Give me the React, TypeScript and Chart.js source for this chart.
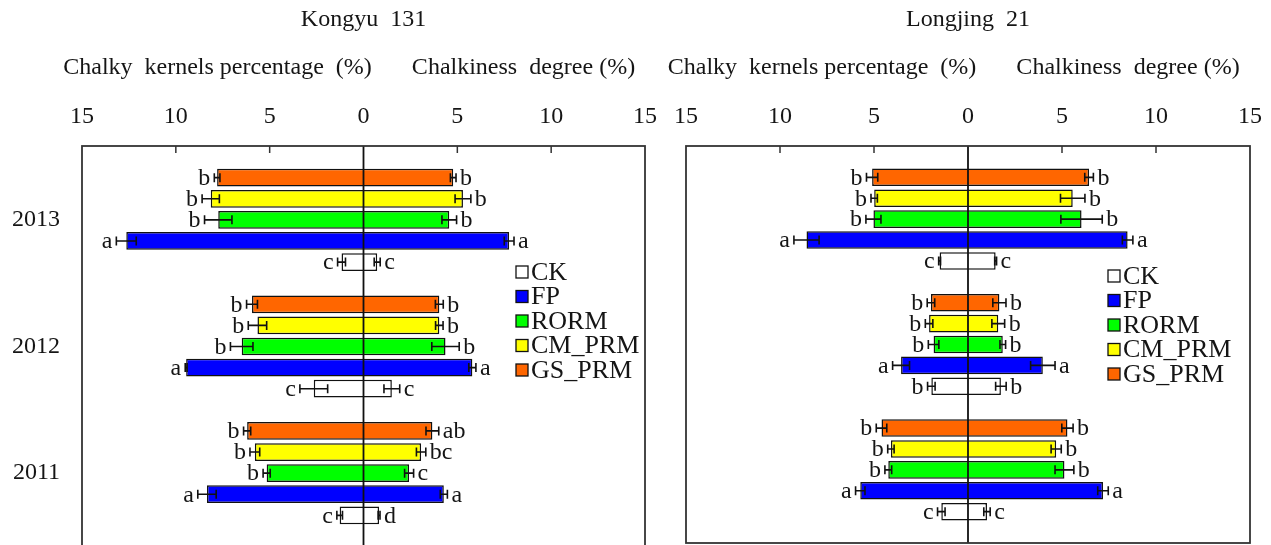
import React, { useEffect, useRef } from 'react';
import { Chart, registerables } from 'chart.js';

Chart.register(...registerables);

// ---------- data ----------
const YEARS = ['2013', '2012', '2011'];
const TREATMENTS = ['CK', 'FP', 'RORM', 'CM_PRM', 'GS_PRM'];
const COLORS = ['#ffffff', '#0000ff', '#00ff00', '#ffff00', '#ff6600'];
// order of the bars inside each year group, from top to bottom
const TOP_TO_BOTTOM = ['GS_PRM', 'CM_PRM', 'RORM', 'FP', 'CK'];
const X_TICKS = [-15, -10, -5, 0, 5, 10, 15];

// rows: CK, FP, RORM, CM_PRM, GS_PRM ; columns: 2013, 2012, 2011
// Kongyu 131
const KY_CKP = [
  [1.17, 2.65, 1.27],
  [12.64, 9.45, 8.34],
  [7.74, 6.49, 5.16],
  [8.14, 5.65, 5.79],
  [7.8, 5.94, 6.2],
];
const KY_CKP_ERR = [
  [0.21, 0.74, 0.15],
  [0.53, 0.05, 0.49],
  [0.73, 0.6, 0.19],
  [0.46, 0.49, 0.26],
  [0.15, 0.29, 0.19],
];
const KY_CKP_LET = [
  ['c', 'c', 'c'],
  ['a', 'a', 'a'],
  ['b', 'b', 'b'],
  ['b', 'b', 'b'],
  ['b', 'b', 'b'],
];
const KY_CD = [
  [0.73, 1.51, 0.83],
  [7.76, 5.8, 4.28],
  [4.57, 4.37, 2.43],
  [5.3, 4.04, 3.07],
  [4.78, 4.04, 3.67],
];
const KY_CD_ERR = [
  [0.16, 0.42, 0.05],
  [0.26, 0.19, 0.19],
  [0.39, 0.73, 0.24],
  [0.42, 0.2, 0.25],
  [0.15, 0.21, 0.34],
];
const KY_CD_LET = [
  ['c', 'c', 'd'],
  ['a', 'a', 'a'],
  ['b', 'b', 'c'],
  ['b', 'b', 'bc'],
  ['b', 'b', 'ab'],
];

// Longjing 21
const LJ_CKP = [
  [1.51, 1.95, 1.42],
  [8.59, 3.56, 5.73],
  [5.03, 1.83, 4.24],
  [4.99, 2.07, 4.1],
  [5.1, 1.97, 4.6],
];
const LJ_CKP_ERR = [
  [0.05, 0.2, 0.2],
  [0.67, 0.45, 0.25],
  [0.4, 0.28, 0.18],
  [0.17, 0.2, 0.17],
  [0.3, 0.2, 0.28],
];
const LJ_CKP_LET = [
  ['c', 'b', 'c'],
  ['a', 'a', 'a'],
  ['b', 'b', 'b'],
  ['b', 'b', 'b'],
  ['b', 'b', 'b'],
];
const LJ_CD = [
  [1.47, 1.75, 1.01],
  [8.49, 3.98, 7.18],
  [6.04, 1.85, 5.13],
  [5.57, 1.61, 4.69],
  [6.44, 1.67, 5.29],
];
const LJ_CD_ERR = [
  [0.05, 0.28, 0.17],
  [0.28, 0.65, 0.28],
  [1.1, 0.15, 0.5],
  [0.65, 0.34, 0.27],
  [0.23, 0.35, 0.3],
];
const LJ_CD_LET = [
  ['c', 'b', 'c'],
  ['a', 'a', 'a'],
  ['b', 'b', 'b'],
  ['b', 'b', 'b'],
  ['b', 'b', 'b'],
];

const FONT = "'Liberation Serif', 'Times New Roman', serif";
const INK = '#151515';

type PanelProps = {
  title: string;
  ckp: number[][];
  ckpErr: number[][];
  ckpLet: string[][];
  cd: number[][];
  cdErr: number[][];
  cdLet: string[][];
  showYears: boolean;
  width: number;
  height: number;
  padLeft: number;
  padRight: number;
  padBottom: number;
  legendOffset: number;
  legendTop: number;
};

function buildLabels(): string[] {
  const labels: string[] = [''];
  YEARS.forEach((y) => {
    TOP_TO_BOTTOM.forEach((t) => labels.push(t === 'RORM' ? y : ''));
    labels.push('');
  });
  return labels;
}

function slotOf(yi: number, treatment: string): number {
  return 1 + yi * (TOP_TO_BOTTOM.length + 1) + TOP_TO_BOTTOM.indexOf(treatment);
}

function zeroPadding(scale: any) {
  scale.paddingLeft = 0;
  scale.paddingRight = 0;
  scale.paddingTop = 0;
  scale.paddingBottom = 0;
}

function Panel(p: PanelProps) {
  const ref = useRef<HTMLCanvasElement | null>(null);

  useEffect(() => {
    const canvas = ref.current;
    if (!canvas) return;
    const labels = buildLabels();
    const datasets = TREATMENTS.map((t, ti) => {
      const data: any[] = labels.map(() => null);
      YEARS.forEach((_, yi) => {
        data[slotOf(yi, t)] = [-p.ckp[ti][yi], p.cd[ti][yi]];
      });
      return {
        label: t,
        data,
        backgroundColor: COLORS[ti],
        borderColor: '#111',
        borderWidth: 1.5,
        borderSkipped: false as any,
        grouped: false,
        barPercentage: 0.84,
        categoryPercentage: 1,
      };
    });

    const deco = {
      id: 'deco',
      afterDatasetsDraw(chart: any) {
        const { ctx, chartArea: a, scales } = chart;
        const xs = scales.x;
        const ys = scales.y;
        ctx.save();
        // error bars + letters
        ctx.strokeStyle = '#111';
        ctx.lineWidth = 1.6;
        ctx.fillStyle = INK;
        ctx.font = `24px ${FONT}`;
        ctx.textBaseline = 'middle';
        TREATMENTS.forEach((t, ti) => {
          YEARS.forEach((_, yi) => {
            const y = ys.getPixelForValue(slotOf(yi, t));
            const sides = [
              { v: -p.ckp[ti][yi], e: p.ckpErr[ti][yi], l: p.ckpLet[ti][yi], dir: -1 },
              { v: p.cd[ti][yi], e: p.cdErr[ti][yi], l: p.cdLet[ti][yi], dir: 1 },
            ];
            sides.forEach((s) => {
              const x1 = xs.getPixelForValue(s.v - s.e);
              const x2 = xs.getPixelForValue(s.v + s.e);
              ctx.beginPath();
              ctx.moveTo(x1, y);
              ctx.lineTo(x2, y);
              ctx.moveTo(x1, y - 4.5);
              ctx.lineTo(x1, y + 4.5);
              ctx.moveTo(x2, y - 4.5);
              ctx.lineTo(x2, y + 4.5);
              ctx.stroke();
              if (s.dir < 0) {
                ctx.textAlign = 'right';
                ctx.fillText(s.l, Math.min(x1, x2) - 4, y + 1);
              } else {
                ctx.textAlign = 'left';
                ctx.fillText(s.l, Math.max(x1, x2) + 4, y + 1);
              }
            });
          });
        });
        // zero line
        const x0 = xs.getPixelForValue(0);
        ctx.lineWidth = 1.8;
        ctx.beginPath();
        ctx.moveTo(x0, a.top);
        ctx.lineTo(x0, a.bottom);
        ctx.stroke();
        // frame
        ctx.strokeStyle = '#333';
        ctx.lineWidth = 1.8;
        ctx.strokeRect(a.left, a.top, a.right - a.left, a.bottom - a.top);
        // inward ticks at the top
        ctx.lineWidth = 1.5;
        X_TICKS.forEach((v) => {
          if (v === 0 || Math.abs(v) === 15) return;
          const x = xs.getPixelForValue(v);
          ctx.beginPath();
          ctx.moveTo(x, a.top);
          ctx.lineTo(x, a.top + 7);
          ctx.stroke();
        });
        ctx.restore();
      },
      afterDraw(chart: any) {
        const { ctx, chartArea: a, scales } = chart;
        const x0 = scales.x.getPixelForValue(0);
        ctx.save();
        ctx.fillStyle = INK;
        ctx.font = `24px ${FONT}`;
        ctx.textBaseline = 'middle';
        ctx.textAlign = 'center';
        ctx.fillText(p.title, x0, 20);
        ctx.fillText('Chalky  kernels percentage  (%)', x0 - 146, 68);
        ctx.fillText('Chalkiness  degree (%)', x0 + 160, 68);
        // legend
        ctx.font = `26px ${FONT}`;
        const lx = a.right - p.legendOffset;
        let ly = a.top + p.legendTop;
        chart.data.datasets.forEach((ds: any) => {
          ctx.fillStyle = ds.backgroundColor;
          ctx.fillRect(lx, ly - 6, 12, 12);
          ctx.strokeStyle = '#111';
          ctx.lineWidth = 1.3;
          ctx.strokeRect(lx, ly - 6, 12, 12);
          ctx.fillStyle = INK;
          ctx.textAlign = 'left';
          ctx.fillText(ds.label, lx + 15, ly + 1);
          ly += 24.5;
        });
        ctx.restore();
      },
    };

    const chart = new Chart(canvas, {
      type: 'bar',
      data: { labels, datasets },
      options: {
        indexAxis: 'y',
        animation: false,
        responsive: false,
        maintainAspectRatio: false,
        layout: { padding: { left: p.padLeft, right: p.padRight, top: 0, bottom: p.padBottom } },
        plugins: {
          legend: { display: false },
          title: { display: false },
          tooltip: { enabled: false },
        },
        scales: {
          x: {
            type: 'linear',
            position: 'top',
            min: -15,
            max: 15,
            afterBuildTicks: (scale: any) => {
              scale.ticks = X_TICKS.map((v) => ({ value: v }));
            },
            ticks: {
              callback: (v: any) => String(Math.abs(Number(v))),
              font: { family: FONT, size: 24 },
              color: INK,
              padding: 15,
              maxRotation: 0,
              autoSkip: false,
            },
            grid: { display: false, drawTicks: false },
            border: { display: false },
            afterFit: (scale: any) => {
              scale.height = 146;
              zeroPadding(scale);
            },
          },
          y: {
            type: 'category',
            display: p.showYears,
            ticks: {
              font: { family: FONT, size: 24 },
              color: INK,
              padding: 22,
              autoSkip: false,
            },
            grid: { display: false, drawTicks: false },
            border: { display: false },
            afterFit: (scale: any) => {
              if (p.showYears) scale.width = 82;
              zeroPadding(scale);
            },
          },
        },
      } as any,
      plugins: [deco],
    });
    return () => chart.destroy();
  }, []);

  return <canvas ref={ref} width={p.width} height={p.height} style={{ display: 'block' }} />;
}

export default function App() {
  return (
    <div style={{ position: 'absolute', left: 0, top: 0, width: 1271, height: 545, overflow: 'hidden', background: '#fff' }}>
      <div style={{ position: 'absolute', left: 0, top: 0 }}>
        <Panel
          title="Kongyu  131"
          ckp={KY_CKP}
          ckpErr={KY_CKP_ERR}
          ckpLet={KY_CKP_LET}
          cd={KY_CD}
          cdErr={KY_CD_ERR}
          cdLet={KY_CD_LET}
          showYears={true}
          width={660}
          height={549}
          padLeft={0}
          padRight={15}
          padBottom={2}
          legendOffset={129}
          legendTop={126}
        />
      </div>
      <div style={{ position: 'absolute', left: 660, top: 0 }}>
        <Panel
          title="Longjing  21"
          ckp={LJ_CKP}
          ckpErr={LJ_CKP_ERR}
          ckpLet={LJ_CKP_LET}
          cd={LJ_CD}
          cdErr={LJ_CD_ERR}
          cdLet={LJ_CD_LET}
          showYears={false}
          width={611}
          height={545}
          padLeft={26}
          padRight={21}
          padBottom={2}
          legendOffset={142}
          legendTop={130}
        />
      </div>
    </div>
  );
}
